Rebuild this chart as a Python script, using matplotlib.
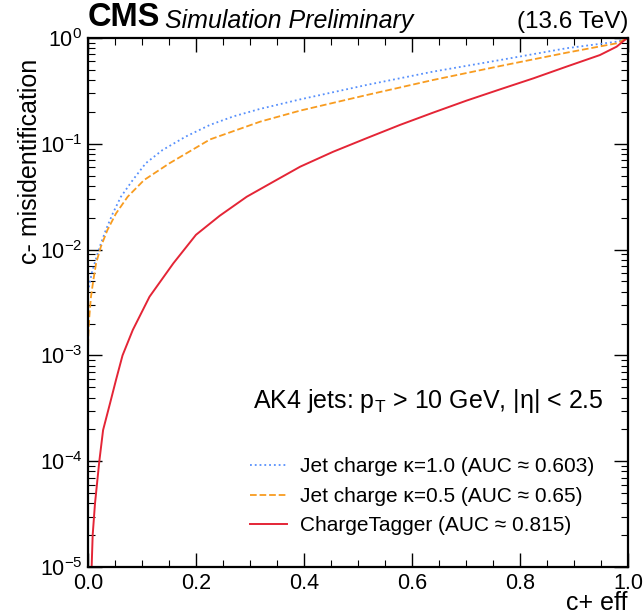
import matplotlib
matplotlib.use("Agg")
from matplotlib import pyplot as plt
from matplotlib.ticker import MultipleLocator, LogLocator, NullFormatter

plt.rcParams['font.family'] = ['Liberation Sans', 'DejaVu Sans']
plt.rcParams['mathtext.default'] = 'regular'

# ROC points (c+ efficiency, c- misidentification)
eff_k10 = [0.0, 0.003, 0.008, 0.014, 0.022, 0.033, 0.046, 0.061, 0.083, 0.107,
           0.138, 0.181, 0.226, 0.27, 0.319, 0.393, 0.516, 0.639, 0.763, 0.886, 0.979, 1.0]
mis_k10 = [0.00398, 0.00479, 0.00631, 0.00794, 0.0107, 0.0153, 0.0220, 0.0316, 0.0455, 0.0655,
           0.0873, 0.117, 0.151, 0.182, 0.214, 0.263, 0.360, 0.481, 0.619, 0.800, 0.923, 1.0]

eff_k05 = [0.0, 0.0006, 0.0025, 0.0056, 0.010, 0.015, 0.024, 0.036, 0.052, 0.0735,
           0.104, 0.151, 0.226, 0.319, 0.393, 0.516, 0.639, 0.763, 0.886, 0.979, 1.0]
mis_k05 = [0.00100, 0.00151, 0.00232, 0.00359, 0.00516, 0.00741, 0.0107, 0.0153, 0.0220, 0.0316,
           0.0455, 0.0655, 0.110, 0.162, 0.206, 0.289, 0.401, 0.543, 0.726, 0.891, 1.0]

eff_ct = [0.0068, 0.0087, 0.013, 0.021, 0.028, 0.041, 0.052, 0.064, 0.083, 0.114,
          0.158, 0.2, 0.244, 0.294, 0.349, 0.393, 0.454, 0.516, 0.578, 0.639,
          0.701, 0.763, 0.825, 0.886, 0.948, 0.979, 0.994, 1.0]
mis_ct = [1.0e-5, 2.0e-5, 3.98e-5, 1.0e-4, 1.97e-4, 3.55e-4, 5.89e-4, 1.0e-3, 1.74e-3, 3.59e-3,
          7.41e-3, 0.0138, 0.0209, 0.0316, 0.0455, 0.0608, 0.0841, 0.113, 0.151, 0.197,
          0.256, 0.327, 0.416, 0.536, 0.690, 0.828, 0.957, 1.0]

labels = ["Jet charge κ=1.0 (AUC ≈ 0.603)",
          "Jet charge κ=0.5 (AUC ≈ 0.65)",
          "ChargeTagger (AUC ≈ 0.815)"]

fig = plt.figure(figsize=(6.44, 6.16), dpi=100)
ax = fig.add_axes([0.1366, 0.0795, 0.8385, 0.8588])

ax.plot(eff_k10, mis_k10, color="#5790fc", linestyle=":", linewidth=1.3, label=labels[0])
ax.plot(eff_k05, mis_k05, color="#f89c20", linestyle="--", linewidth=1.3, label=labels[1])
ax.plot(eff_ct, mis_ct, color="#e42536", linestyle="-", linewidth=1.4, label=labels[2])

ax.set_yscale("log")
ax.set(xlim=[0, 1], ylim=[1e-5, 1])
ax.xaxis.set_major_locator(MultipleLocator(0.2))
ax.xaxis.set_minor_locator(MultipleLocator(0.05))
ax.yaxis.set_major_locator(LogLocator(base=10, numticks=10))
ax.yaxis.set_minor_locator(LogLocator(base=10, subs=range(2, 10), numticks=20))
ax.yaxis.set_minor_formatter(NullFormatter())

ax.tick_params(which="both", direction="in", top=True, right=True, labelsize=15.5)
ax.tick_params(which="major", length=10, width=1.0, pad=4)
ax.tick_params(which="minor", length=5, width=0.8)
for s in ax.spines.values():
    s.set_linewidth(1.6)

ax.set_xlabel("c+ eff", fontsize=18, loc="right", labelpad=-2)
ax.set_ylabel("c- misidentification", fontsize=18, ha="right", y=0.96, labelpad=-2)

ax.text(0.306, 0.314, "AK4 jets: $p_T$ > 10 GeV, |η| < 2.5", transform=ax.transAxes,
        fontsize=18, va="center", ha="left")

ax.legend(loc="lower left", bbox_to_anchor=(0.30, 0.06), frameon=False, fontsize=15,
          handlelength=1.8, handletextpad=0.6, labelspacing=0.5, borderpad=0, borderaxespad=0)

ax.text(0.0, 1.01, "CMS", transform=ax.transAxes, fontsize=23.5, fontweight="bold",
        ha="left", va="bottom")
ax.text(0.143, 1.01, "Simulation Preliminary", transform=ax.transAxes, fontsize=18,
        style="italic", ha="left", va="bottom")
ax.text(1.0, 1.01, "(13.6 TeV)", transform=ax.transAxes, fontsize=17.5,
        ha="right", va="bottom")

fig.savefig("out.png", dpi=100)
